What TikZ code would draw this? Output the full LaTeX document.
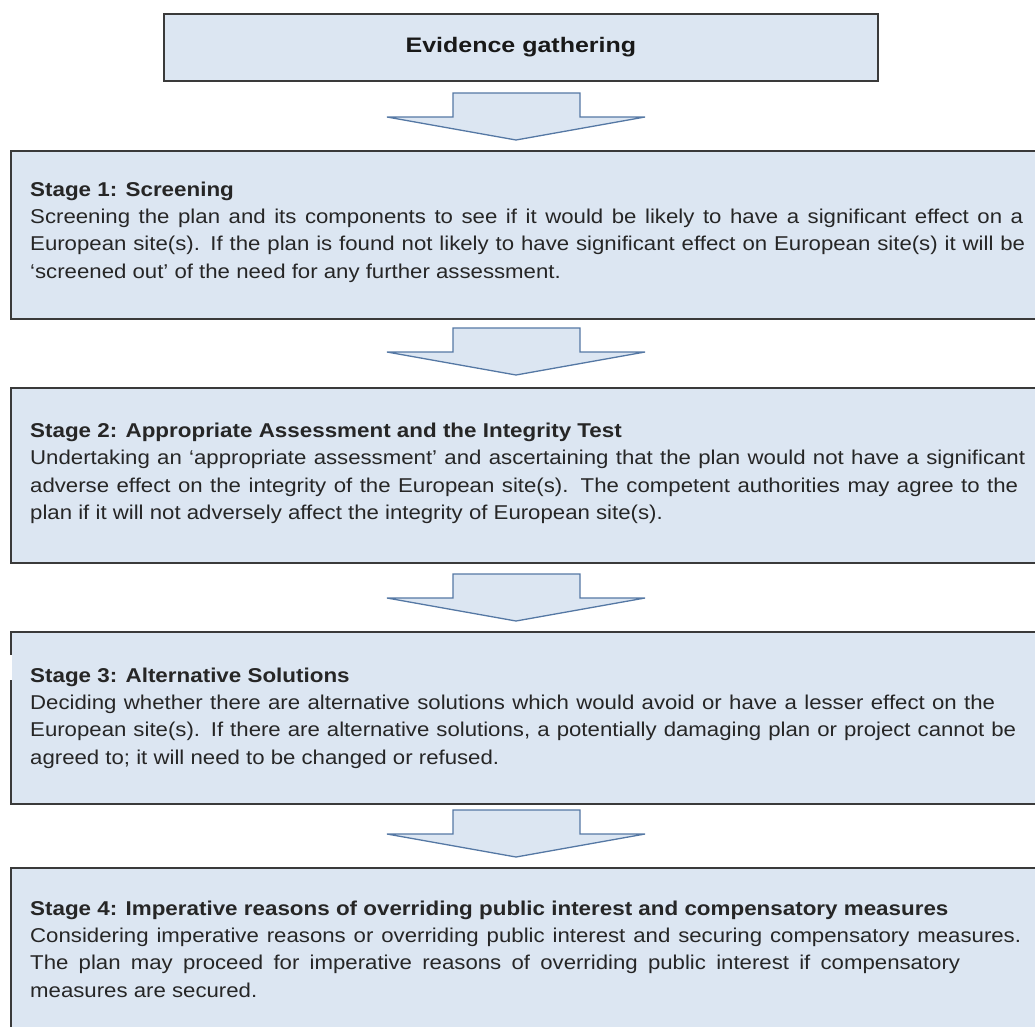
\documentclass[tikz,border=0pt]{standalone}
\usepackage{fontspec}
\setmainfont{Liberation Sans}
% body and heading faces, set slightly wide
\newfontfamily\bodysans[FakeStretch=1.11]{Liberation Sans}
\newfontfamily\headsans[FakeStretch=1.12]{Liberation Sans}
\newfontfamily\titlesans[FakeStretch=1.19]{Liberation Sans}
\usetikzlibrary{calc}
\definecolor{boxfill}{HTML}{DCE6F2}
\definecolor{boxline}{HTML}{3A3A3A}
\definecolor{arrowline}{HTML}{5578A4}
\newcommand{\stagehead}[1]{{\headsans\bfseries #1}}
% a full text line spread to a given width
\newcommand{\spreadline}[2]{\makebox[#1pt][s]{#2}}
\tikzset{
  stagebox/.style={draw=boxline, fill=boxfill, line width=1.8pt, rectangle,
    anchor=north west, inner sep=0pt},
  stagetext/.style={anchor=west, align=left, inner sep=0pt, text=black!85,
    font=\bodysans\fontsize{20}{27.3}\selectfont},
  flowarrow/.pic={
    \draw[draw=arrowline, fill=boxfill, line width=1.3pt, line join=miter]
      (-63,0) -- (64,0) -- (64,24) -- (129,24) -- (0,47) -- (-129,24)
      -- (-63,24) -- cycle;
  }
}
\begin{document}
\begin{tikzpicture}[x=1pt, y=-1pt]
\useasboundingbox (0,0) rectangle (1035,1026);
\clip (0,0) rectangle (1035,1026);

% title box
\node[stagebox, minimum width=714pt, minimum height=67pt] (evidence) at (163,13) {};
\node[font=\titlesans\bfseries\fontsize{21}{24}\selectfont, text=black!90] (evidencetext)
  at (evidence.center) {Evidence gathering};

% stage boxes
\node[stagebox, minimum width=1040pt, minimum height=168pt] (stage1) at (10,150) {};
\node[stagebox, minimum width=1040pt, minimum height=175pt] (stage2) at (10,387) {};
\node[stagebox, minimum width=1040pt, minimum height=172pt] (stage3) at (10,631) {};
\node[stagebox, minimum width=1040pt, minimum height=180pt] (stage4) at (10,867) {};

% small blank patch over the left edge of stage 3
\fill[white] (0,655) rectangle (11.5,680);

% block arrows between the boxes
\pic at (516,93) {flowarrow};
\pic at (516,328) {flowarrow};
\pic at (516,574) {flowarrow};
\pic at (516,810) {flowarrow};

% stage texts
\node[stagetext] (text1) at ($(stage1.west)+(20,-3)$) {%
  \stagehead{Stage 1: Screening}\\
  \spreadline{993}{Screening the plan and its components to see if it would be likely to have a significant effect on a}\\
  \spreadline{995}{European site(s). If the plan is found not likely to have significant effect on European site(s) it will be}\\
  ‘screened out’ of the need for any further assessment.};

\node[stagetext] (text2) at ($(stage2.west)+(20,-2)$) {%
  \stagehead{Stage 2: Appropriate Assessment and the Integrity Test}\\
  \spreadline{995}{Undertaking an ‘appropriate assessment’ and ascertaining that the plan would not have a significant}\\
  \spreadline{988}{adverse effect on the integrity of the European site(s). The competent authorities may agree to the}\\
  plan if it will not adversely affect the integrity of European site(s).};

\node[stagetext] (text3) at ($(stage3.west)+(20,0)$) {%
  \stagehead{Stage 3: Alternative Solutions}\\
  \spreadline{965}{Deciding whether there are alternative solutions which would avoid or have a lesser effect on the}\\
  \spreadline{986}{European site(s). If there are alternative solutions, a potentially damaging plan or project cannot be}\\
  agreed to; it will need to be changed or refused.};

\node[stagetext] (text4) at ($(stage4.west)+(20,-9)$) {%
  \stagehead{Stage 4: Imperative reasons of overriding public interest and compensatory measures}\\
  \spreadline{991}{Considering imperative reasons or overriding public interest and securing compensatory measures.}\\
  \spreadline{930}{The plan may proceed for imperative reasons of overriding public interest if compensatory}\\
  measures are secured.};
\end{tikzpicture}
\end{document}
